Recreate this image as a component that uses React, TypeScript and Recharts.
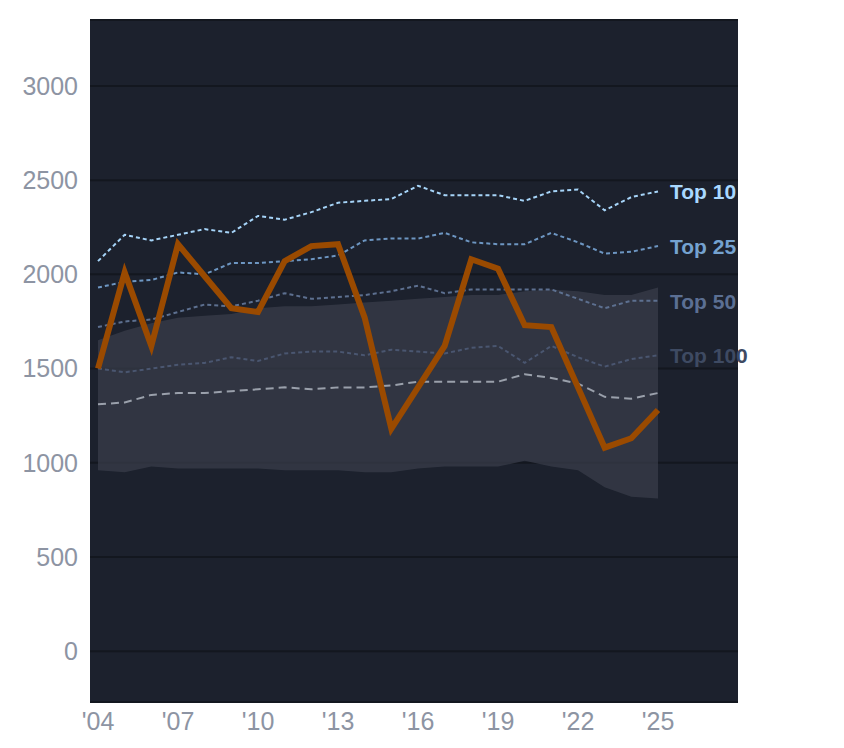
import { ComposedChart, Line, Area, XAxis, YAxis, CartesianGrid } from "recharts";

const years = [2004, 2005, 2006, 2007, 2008, 2009, 2010, 2011, 2012, 2013, 2014, 2015, 2016, 2017, 2018, 2019, 2020, 2021, 2022, 2023, 2024, 2025];
const player = [1500, 2010, 1620, 2160, 1990, 1820, 1800, 2070, 2150, 2160, 1770, 1180, 1400, 1620, 2080, 2030, 1730, 1720, 1400, 1080, 1130, 1280];
const top10 = [2070, 2210, 2180, 2210, 2240, 2220, 2310, 2290, 2330, 2380, 2390, 2400, 2470, 2420, 2420, 2420, 2390, 2440, 2450, 2340, 2410, 2440];
const top25 = [1930, 1960, 1970, 2010, 2000, 2060, 2060, 2070, 2080, 2100, 2180, 2190, 2190, 2220, 2170, 2160, 2160, 2220, 2170, 2110, 2120, 2150];
const top50 = [1720, 1750, 1760, 1800, 1840, 1830, 1860, 1900, 1870, 1880, 1890, 1910, 1940, 1900, 1920, 1920, 1920, 1920, 1870, 1820, 1860, 1860];
const top100 = [1500, 1480, 1500, 1520, 1530, 1560, 1540, 1580, 1590, 1590, 1570, 1600, 1590, 1580, 1610, 1620, 1530, 1620, 1560, 1510, 1550, 1570];
const average = [1310, 1320, 1360, 1370, 1370, 1380, 1390, 1400, 1390, 1400, 1400, 1410, 1430, 1430, 1430, 1430, 1470, 1450, 1420, 1350, 1340, 1370];
const bandHigh = [1650, 1700, 1740, 1770, 1780, 1790, 1820, 1830, 1830, 1840, 1850, 1860, 1870, 1880, 1890, 1890, 1910, 1920, 1910, 1890, 1890, 1930];
const bandLow = [960, 950, 980, 970, 970, 970, 970, 960, 960, 960, 950, 950, 970, 980, 980, 980, 1010, 980, 960, 870, 820, 810];
const xTicks = [2004, 2007, 2010, 2013, 2016, 2019, 2022, 2025];
const yTicks = [0, 500, 1000, 1500, 2000, 2500, 3000];

const data = years.map((year, i) => ({
  year,
  player: player[i],
  top10: top10[i],
  top25: top25[i],
  top50: top50[i],
  top100: top100[i],
  average: average[i],
  band: [bandLow[i], bandHigh[i]],
}));

const last = years.length - 1;

function endLabel(text: string, color: string) {
  return (props: any) => {
    if (props.index !== last) return null;
    return (
      <text x={props.x + 12} y={props.y} dy={8} fill={color} fontSize={21} fontWeight="bold" fontFamily="Liberation Sans, Arial, sans-serif">
        {text}
      </text>
    );
  };
}

export default function App() {
  const tick = { fill: "#8d94a3", fontSize: 25, fontFamily: "Liberation Sans, Arial, sans-serif" };
  return (
    <ComposedChart width={836} height={740} data={data} margin={{ top: 12, right: 106, bottom: 6, left: 0 }}>
      <CartesianGrid vertical={false} fill="#1c212d" stroke="#13171f" strokeWidth={2} />
      <XAxis
        dataKey="year"
        type="number"
        domain={[2003.7, 2028]}
        ticks={xTicks}
        tickFormatter={(v) => "'" + String(v).slice(2)}
        axisLine={false}
        tickLine={false}
        tick={tick}
        height={40}
        tickMargin={4}
      />
      <YAxis
        type="number"
        domain={[-270, 3350]}
        ticks={yTicks}
        allowDataOverflow
        axisLine={false}
        tickLine={false}
        tick={tick}
        width={82}
        tickMargin={6}
      />
      <Area dataKey="band" type="linear" fill="#3a3f4c" fillOpacity={0.7} stroke="none" isAnimationActive={false} />
      <Line dataKey="average" type="linear" stroke="#9aa0ab" strokeWidth={2} strokeDasharray="8 5" dot={false} isAnimationActive={false} />
      <Line dataKey="top100" type="linear" stroke="#4a5670" strokeWidth={2} strokeDasharray="4 3" dot={false} isAnimationActive={false} label={endLabel("Top 100", "#3e4a62")} />
      <Line dataKey="top50" type="linear" stroke="#5d7090" strokeWidth={2} strokeDasharray="4 3" dot={false} isAnimationActive={false} label={endLabel("Top 50", "#5b6f93")} />
      <Line dataKey="top25" type="linear" stroke="#6d96c2" strokeWidth={2} strokeDasharray="4 3" dot={false} isAnimationActive={false} label={endLabel("Top 25", "#74a2d0")} />
      <Line dataKey="top10" type="linear" stroke="#a6d4f8" strokeWidth={2} strokeDasharray="4 3" dot={false} isAnimationActive={false} label={endLabel("Top 10", "#a9d8ff")} />
      <Line dataKey="player" type="linear" stroke="#9a4a00" strokeWidth={6} dot={false} isAnimationActive={false} />
    </ComposedChart>
  );
}
